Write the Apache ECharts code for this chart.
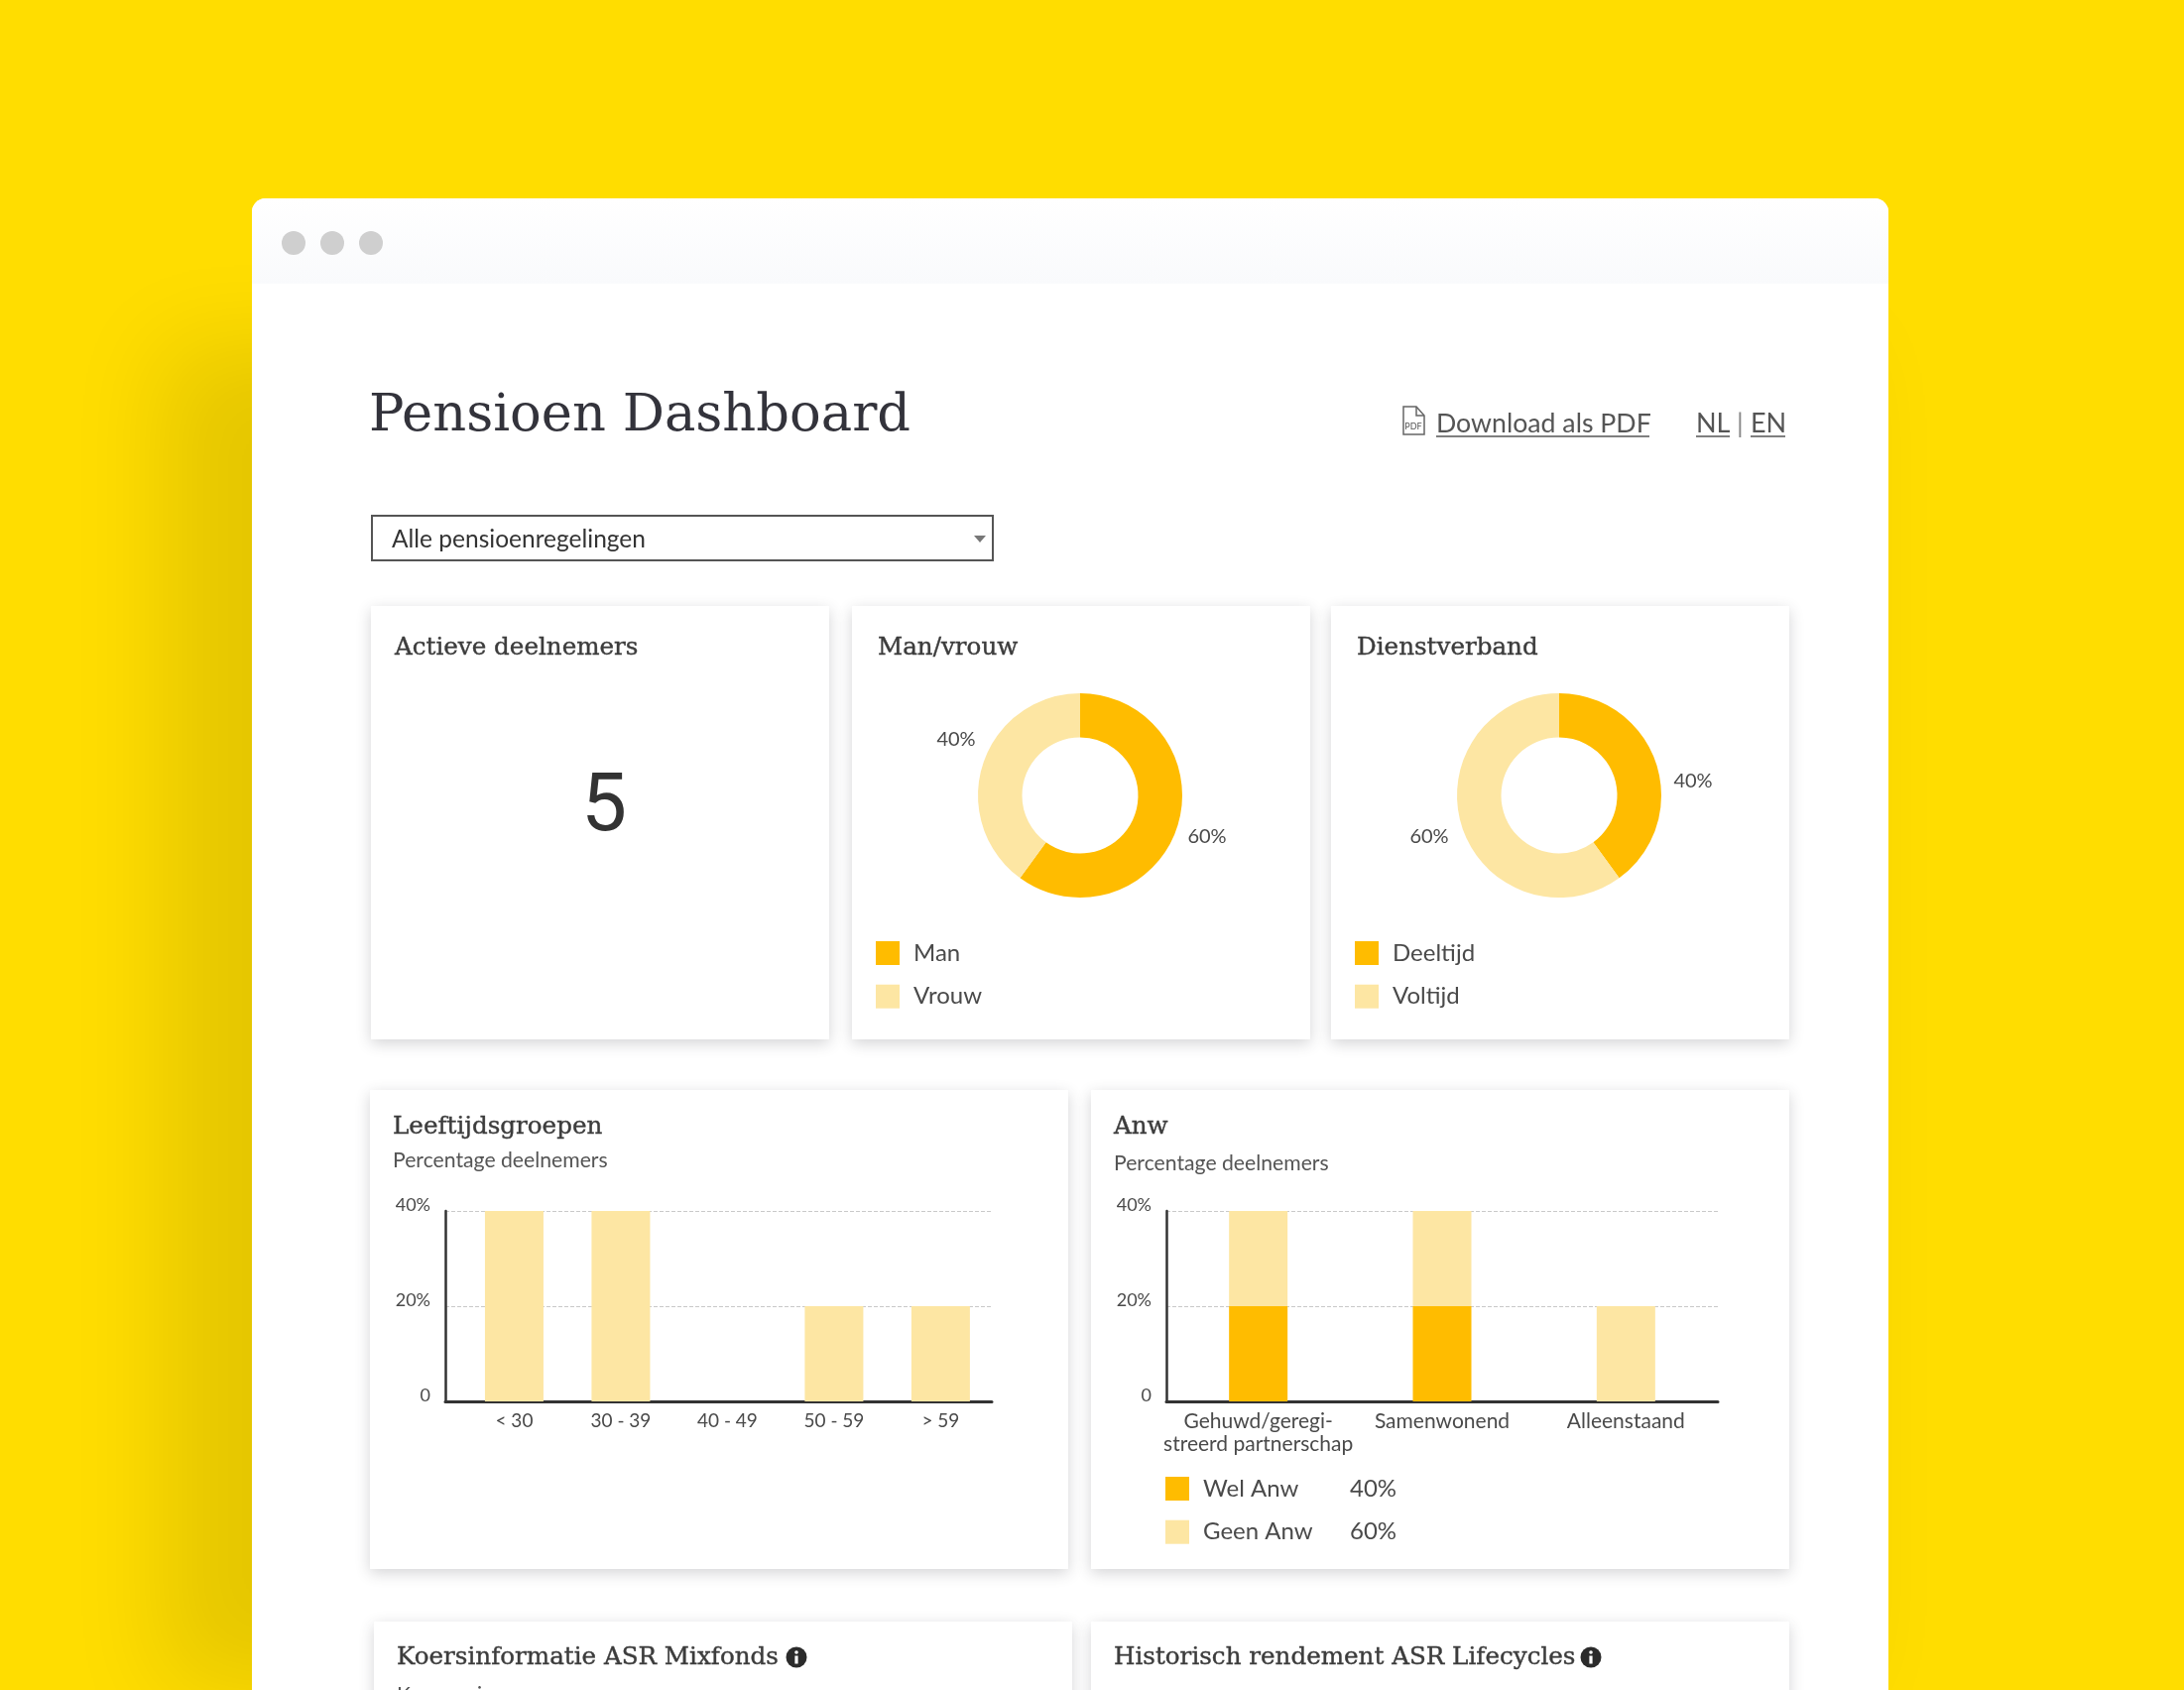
<!DOCTYPE html>
<html lang="nl">
<head>
<meta charset="UTF-8" />
<title>Pensioen Dashboard</title>
<style>
  html, body { margin: 0; padding: 0; background: #ffdd00; }
  #main { width: 2202px; height: 1704px; }
</style>
</head>
<body>
<div id="main"></div>
<script src="https://cdn.jsdelivr.net/npm/echarts@6/dist/echarts.min.js"></script>
<script>
// data
var genderNames = ["Man", "Vrouw"];
var genderValues = [60, 40];
var employmentNames = ["Deeltijd", "Voltijd"];
var employmentValues = [40, 60];
var ageGroups = ["< 30", "30 - 39", "40 - 49", "50 - 59", "> 59"];
var ageValues = [40, 40, 0, 20, 20];
var anwGroups = ["Gehuwd/geregi-\nstreerd partnerschap", "Samenwonend", "Alleenstaand"];
var anwWel = [20, 20, 0];
var anwGeen = [20, 20, 20];
var anwTotals = { "Wel Anw": "40%", "Geen Anw": "60%" };
var percentTicks = [0, 20, 40];

var DARK = "#ffbc00";
var LIGHT = "#fde6a3";
var TEXT = "#4a4a4a";
var SERIF = '"DejaVu Serif", serif';
var SANS = "Lato, sans-serif";

// value axis used as index axis, the age bars do not fill the axis evenly
function indexed(values) {
  return values.map(function (v, i) { return [i, v]; });
}

function card(x, y, w, h) {
  return {
    type: "rect", shape: { x: x, y: y, width: w, height: h },
    style: { fill: "#fff", shadowBlur: 14, shadowOffsetY: 4, shadowColor: "rgba(60,60,70,0.22)" }
  };
}
function txt(x, y, s, size, font, color, align) {
  var el = {
    type: "text", x: x, y: y,
    style: { text: s, fontSize: size, fontFamily: font, fill: color || TEXT, verticalAlign: "middle" }
  };
  if (align) el.style.align = align;
  return el;
}
function title(x, y, s) {
  var el = txt(x, y, s, 24.6, SERIF, "#3c3c3c");
  el.style.stroke = "#3c3c3c";
  el.style.lineWidth = 0.4;
  return el;
}
function underline(x1, x2, y) {
  return { type: "line", shape: { x1: x1, y1: y, x2: x2, y2: y }, style: { stroke: "#555", lineWidth: 1.5 } };
}
function infoIcon(cx, cy) {
  return [
    { type: "circle", shape: { cx: cx, cy: cy, r: 10.5 }, style: { fill: "#2b2b2b" } },
    { type: "circle", shape: { cx: cx, cy: cy - 5, r: 1.8 }, style: { fill: "#fff" } },
    { type: "rect", shape: { x: cx - 1.6, y: cy - 1.5, width: 3.2, height: 8 }, style: { fill: "#fff" } }
  ];
}

var graphics = [
  // window shadow, the rect itself is moved off canvas so only its blur shows
  {
    type: "rect", shape: { x: 165 - 4000, y: 350, width: 1695, height: 1350 },
    style: { fill: "#000", shadowBlur: 90, shadowOffsetX: 4000, shadowColor: "rgba(0,0,0,0.1)" }
  },
  // window
  { type: "rect", shape: { x: 254, y: 200, width: 1650, height: 1620, r: 14 }, style: { fill: "#fff" } },
  {
    type: "rect", shape: { x: 254, y: 200, width: 1650, height: 86, r: [14, 14, 0, 0] },
    style: {
      fill: { type: "linear", x: 0, y: 0, x2: 0, y2: 1, colorStops: [{ offset: 0, color: "#ffffff" }, { offset: 1, color: "#f9fafc" }] }
    }
  },
  { type: "circle", shape: { cx: 296, cy: 245, r: 12 }, style: { fill: "#cfcfcf" } },
  { type: "circle", shape: { cx: 335, cy: 245, r: 12 }, style: { fill: "#cfcfcf" } },
  { type: "circle", shape: { cx: 374, cy: 245, r: 12 }, style: { fill: "#cfcfcf" } },

  // header
  txt(372, 420, "Pensioen Dashboard", 52.7, SERIF, "#33333b"),
  txt(1448, 427, "Download als PDF", 26.7, SANS, "#555"),
  underline(1448, 1663, 440),
  txt(1710, 427, "NL", 27, SANS, "#555"),
  underline(1710, 1744, 440),
  txt(1751, 427, "|", 27, SANS, "#888"),
  txt(1765, 427, "EN", 27, SANS, "#555"),
  underline(1765, 1800, 440),
  // pdf icon
  {
    type: "polygon", shape: { points: [[1415, 410], [1428, 410], [1436, 419], [1436, 438], [1415, 438]] },
    style: { fill: "#fff", stroke: "#666", lineWidth: 1.5 }
  },
  { type: "polyline", shape: { points: [[1428, 410], [1428, 419], [1436, 419]] }, style: { fill: null, stroke: "#666", lineWidth: 1.5 } },
  txt(1425, 430, "PDF", 9, SANS, "#555", "center"),

  // select
  {
    type: "rect", shape: { x: 375, y: 520, width: 626, height: 45 },
    style: { fill: "#fff", stroke: "#555", lineWidth: 2 }
  },
  txt(395, 544, "Alle pensioenregelingen", 24.5, SANS, "#333"),
  { type: "polygon", shape: { points: [[982, 540], [994, 540], [988, 547]] }, style: { fill: "#777" } },

  // cards
  card(374, 611, 462, 437),
  card(859, 611, 462, 437),
  card(1342, 611, 462, 437),
  card(373, 1099, 704, 483),
  card(1100, 1099, 704, 483),
  card(377, 1635, 704, 200),
  card(1100, 1635, 704, 200),

  title(398, 654, "Actieve deelnemers"),
  title(885, 654, "Man/vrouw"),
  title(1368, 654, "Dienstverband"),
  title(396, 1137, "Leeftijdsgroepen"),
  txt(396, 1170, "Percentage deelnemers", 21.2, SANS, "#555"),
  title(1123, 1137, "Anw"),
  txt(1123, 1173, "Percentage deelnemers", 21.2, SANS, "#555"),
  txt(609, 816, "5", 82, "Roboto, sans-serif", "#333", "center"),
  title(400, 1672, "Koersinformatie ASR Mixfonds"),
  title(1123, 1672, "Historisch rendement ASR Lifecycles"),
  txt(400, 1709, "Koersen in euro", 21, SANS, "#555")
].concat(infoIcon(803, 1671), infoIcon(1604, 1671));

// 60%/40% labels do not sit on the mid angle in the picture
function pieSeries(names, values, cx, labelX, labelY) {
  return {
    type: "pie",
    center: [cx, 802],
    radius: [58.5, 103],
    startAngle: 90,
    avoidLabelOverlap: false,
    silent: true,
    data: names.map(function (n, i) {
      return { name: n, value: values[i], itemStyle: { color: i === 0 ? DARK : LIGHT } };
    }),
    label: { show: true, position: "outside", formatter: "{d}%", fontFamily: SANS, fontSize: 20, color: TEXT },
    labelLine: { show: false },
    labelLayout: function (p) {
      return { x: labelX[p.dataIndex], y: labelY[p.dataIndex], align: "center", verticalAlign: "middle" };
    }
  };
}

function legend(names, left, top, formatter) {
  return {
    show: true, orient: "vertical", left: left, top: top, padding: 0,
    data: names, icon: "rect", itemWidth: 24, itemHeight: 24, itemGap: 19.7,
    selectedMode: false,
    formatter: formatter,
    textStyle: {
      fontFamily: SANS, fontSize: 24, color: TEXT, padding: [0, 0, 0, 9],
      rich: {
        n: { fontFamily: SANS, fontSize: 24, color: TEXT, width: 148 },
        v: { fontFamily: SANS, fontSize: 24, color: TEXT }
      }
    }
  };
}

function yAxisFor(gridIndex) {
  return {
    type: "value", gridIndex: gridIndex, min: 0, max: 40, interval: 20,
    axisLine: { show: true, onZero: false, lineStyle: { color: "#333", width: 2.5 } },
    axisTick: { show: false },
    splitLine: { show: true, lineStyle: { color: "#c9c9c9", type: "dashed", width: 1 } },
    axisLabel: {
      margin: 15, fontFamily: SANS, fontSize: 18, color: TEXT,
      verticalAlign: "bottom", lineHeight: 12,
      customValues: percentTicks,
      formatter: function (v) { return v === 0 ? "0" : v + "%"; }
    }
  };
}

var option = {
  animation: false,
  backgroundColor: "#ffdd00",
  graphic: { elements: graphics },
  legend: [
    legend(genderNames, 883, 949),
    legend(employmentNames, 1366, 949),
    legend(["Wel Anw", "Geen Anw"], 1175, 1489, function (n) {
      return "{n|" + n + "}{v|" + anwTotals[n] + "}";
    })
  ],
  grid: [
    { left: 449, top: 1221, width: 551, height: 192 },
    { left: 1176, top: 1221, width: 556, height: 192 }
  ],
  xAxis: [
    {
      type: "value", gridIndex: 0, min: -0.646, max: 4.48,
      splitLine: { show: false },
      axisTick: { show: false },
      axisLine: { show: true, onZero: false, lineStyle: { color: "#333", width: 3 } },
      axisLabel: {
        margin: 10, fontFamily: SANS, fontSize: 19, color: TEXT,
        verticalAlign: "top", showMinLabel: true, showMaxLabel: true,
        customValues: ageGroups.map(function (n, i) { return i; }),
        formatter: function (v) { return ageGroups[v]; }
      }
    },
    {
      type: "category", gridIndex: 1, data: anwGroups,
      axisTick: { show: false },
      axisLine: { show: true, onZero: false, lineStyle: { color: "#333", width: 3 } },
      axisLabel: {
        margin: 9, interval: 0, fontFamily: SANS, fontSize: 21, color: TEXT, lineHeight: 23,
        verticalAlign: "top"
      }
    }
  ],
  yAxis: [yAxisFor(0), yAxisFor(1)],
  series: [
    pieSeries(genderNames, genderValues, 1089, [1217, 964], [844, 746]),
    pieSeries(employmentNames, employmentValues, 1572, [1707, 1441], [788, 844]),
    {
      name: "Leeftijdsgroepen", type: "bar", xAxisIndex: 0, yAxisIndex: 0, barWidth: 59, silent: true,
      itemStyle: { color: LIGHT }, data: indexed(ageValues)
    },
    {
      name: "Wel Anw", type: "bar", stack: "anw", xAxisIndex: 1, yAxisIndex: 1, barWidth: 59, silent: true,
      itemStyle: { color: DARK }, data: anwWel
    },
    {
      name: "Geen Anw", type: "bar", stack: "anw", xAxisIndex: 1, yAxisIndex: 1, barWidth: 59, silent: true,
      itemStyle: { color: LIGHT }, data: anwGeen
    }
  ]
};

var myChart = echarts.init(document.getElementById("main"));
myChart.setOption(option);
</script>
</body>
</html>
